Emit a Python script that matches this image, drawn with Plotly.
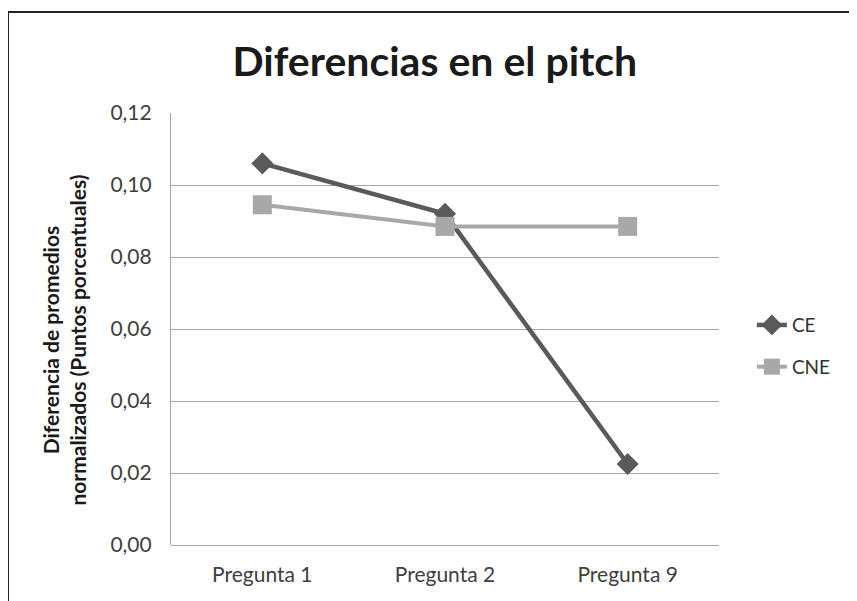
import plotly.graph_objects as go

categories = ["Pregunta 1", "Pregunta 2", "Pregunta 9"]
ce_values = [0.106, 0.092, 0.0225]
cne_values = [0.0945, 0.0885, 0.0885]
y_ticks = [0.0, 0.02, 0.04, 0.06, 0.08, 0.10, 0.12]
y_tick_labels = ["0,00", "0,02", "0,04", "0,06", "0,08", "0,10", "0,12"]

FONT = "Lato, 'Open Sans', sans-serif"

fig = go.Figure()
fig.add_trace(go.Scatter(
    x=categories, y=ce_values, name="CE", mode="lines+markers",
    legendgroup="a",
    line=dict(color="#5a5a5a", width=4.5),
    marker=dict(symbol="diamond", size=17, color="#5a5a5a"),
))
fig.add_trace(go.Scatter(
    x=categories, y=cne_values, name="CNE", mode="lines+markers",
    legendgroup="b",
    line=dict(color="#a8a8a8", width=4),
    marker=dict(symbol="square", size=19, color="#a8a8a8"),
))

fig.update_layout(
    width=857, height=601,
    margin=dict(l=163, r=146, t=105, b=64),
    paper_bgcolor="white", plot_bgcolor="white",
    font=dict(family=FONT, color="#404040", size=21),
    title=dict(text="<b>Diferencias en el pitch</b>", x=0.498, xanchor="center",
               y=0.91, yanchor="middle",
               font=dict(family=FONT, size=41, color="#1a1a1a")),
    showlegend=True,
    legend=dict(x=1.06, xanchor="left", y=0.553, yanchor="top",
                font=dict(size=19, color="#333333"), tracegroupgap=14,
                bgcolor="rgba(0,0,0,0)"),
    xaxis=dict(type="category", range=[-0.5, 2.5], showgrid=False,
               showline=False, ticks="", zeroline=False,
               ticklabelstandoff=15,
               tickfont=dict(size=21, color="#404040")),
    yaxis=dict(range=[0, 0.12], tickvals=y_ticks, ticktext=y_tick_labels,
               showgrid=True, gridcolor="#a6a6a6", gridwidth=1.2,
               showline=True, linecolor="#a6a6a6", linewidth=1.2,
               zeroline=True, zerolinecolor="#a6a6a6", zerolinewidth=1.2,
               ticks="", ticklabelstandoff=14,
               tickfont=dict(size=21, color="#404040")),
    annotations=[dict(
        text="<b>Diferencia de promedios<br>normalizados (Puntos porcentuales)</b>",
        xref="paper", yref="paper", x=-0.196, y=0.4745,
        xanchor="center", yanchor="middle", textangle=-90, showarrow=False,
        font=dict(family=FONT, size=21, color="#1a1a1a"))],
    shapes=[dict(type="rect", xref="paper", yref="paper",
                 x0=-0.2975, x1=1.3, y0=-0.2, y1=1.2338,
                 line=dict(color="#222222", width=2), fillcolor="rgba(0,0,0,0)",
                 layer="below")],
)

fig.write_html("out.html")
